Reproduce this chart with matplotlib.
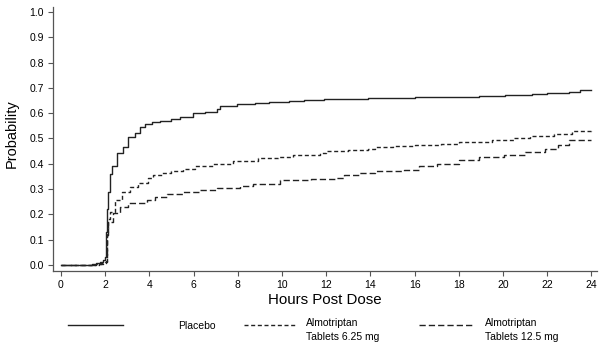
import matplotlib.pyplot as plt
from matplotlib.lines import Line2D

plt.rcParams['font.family'] = ['Liberation Sans', 'DejaVu Sans']

# time (hours) and probability
placebo_t = [0, 1.4, 1.6, 1.75, 1.9, 2.0, 2.05, 2.08, 2.15, 2.22, 2.32, 2.52, 2.82, 3.05,
             3.35, 3.57, 3.8, 4.1, 4.5, 5.0, 5.38, 5.99, 6.52, 7.05, 7.2, 7.95, 8.8,
             9.4, 10.3, 11.0, 11.9, 13.0, 13.9, 15.0, 16.0, 18.0, 18.9, 20.1, 21.3, 22.0,
             23.0, 23.5, 24]
placebo_p = [0, 0.004, 0.008, 0.012, 0.02, 0.03, 0.13, 0.22, 0.29, 0.36, 0.39, 0.444,
             0.468, 0.505, 0.52, 0.547, 0.557, 0.566, 0.571, 0.576, 0.586, 0.6, 0.606,
             0.615, 0.628, 0.635, 0.641, 0.646, 0.649, 0.652, 0.655, 0.657, 0.66, 0.662,
             0.664, 0.666, 0.669, 0.673, 0.676, 0.68, 0.684, 0.69, 0.69]

low_t = [0, 1.6, 1.8, 1.95, 2.05, 2.1, 2.15, 2.22, 2.44, 2.75, 3.12, 3.5, 3.95, 4.18,
         4.56, 5.0, 5.53, 6.06, 6.9, 7.8, 8.9, 9.8, 10.5, 11.7, 12.0, 13.0, 13.9, 14.2,
         15.0, 16.0, 17.2, 18.0, 19.5, 20.5, 21.2, 22.3, 23.1, 24]
low_p = [0, 0.003, 0.006, 0.01, 0.015, 0.13, 0.18, 0.21, 0.257, 0.29, 0.307, 0.323,
         0.343, 0.356, 0.365, 0.373, 0.378, 0.391, 0.398, 0.411, 0.421, 0.428, 0.434,
         0.442, 0.45, 0.455, 0.46, 0.468, 0.472, 0.476, 0.48, 0.488, 0.493, 0.5, 0.51,
         0.516, 0.53, 0.534]

high_t = [0, 1.7, 1.9, 2.05, 2.1, 2.14, 2.37, 2.67, 3.05, 3.42, 3.88, 4.25, 4.78, 5.53,
          6.29, 7.05, 8.1, 8.7, 9.9, 11.3, 12.4, 12.8, 13.5, 14.2, 15.5, 16.2, 17.0,
          18.0, 18.9, 20.06, 21.0, 21.9, 22.5, 23.0, 24]
high_p = [0, 0.003, 0.006, 0.01, 0.12, 0.171, 0.207, 0.23, 0.244, 0.246, 0.257, 0.27,
          0.279, 0.29, 0.296, 0.303, 0.312, 0.319, 0.336, 0.34, 0.345, 0.354, 0.365,
          0.37, 0.374, 0.39, 0.4, 0.413, 0.426, 0.433, 0.445, 0.46, 0.475, 0.493, 0.493]

xticks = list(range(0, 25, 2))
yticks = [i / 10 for i in range(11)]
labels = ['Placebo', 'Almotriptan\nTablets 6.25 mg', 'Almotriptan\nTablets 12.5 mg']
styles = ['-', (0, (2.9, 1.9)), (0, (4.5, 2.2))]
col = '#222222'

fig = plt.figure(figsize=(6.05, 3.51), dpi=100)
ax = fig.add_axes([53 / 605, 80 / 351, 544 / 605, 264 / 351])

for t, p, ls in zip([placebo_t, low_t, high_t], [placebo_p, low_p, high_p], styles):
    ax.step(t, p, where='post', color=col, lw=1.0, linestyle=ls)

ax.set_xlim(-0.36, 24.25)
ax.set_ylim(-0.024, 1.02)
ax.set_xticks(xticks)
ax.set_yticks(yticks)
ax.set_yticklabels([f'{v:.1f}' for v in yticks])
for s in ['top', 'right']:
    ax.spines[s].set_visible(False)
for s in ['left', 'bottom']:
    ax.spines[s].set_color('#555555')
    ax.spines[s].set_linewidth(0.9)
ax.tick_params(labelsize=7.5, length=3.5, width=0.8, color='#555555', pad=3)
ax.set_xlabel('Hours Post Dose', fontsize=10.8, labelpad=2)
fig.text(12 / 605, 1 - 134 / 351, 'Probability', rotation=90, fontsize=10.5,
         ha='center', va='center')

# legend drawn by hand below the axis
leg_line_x = [(68, 123), (244, 297), (419, 473)]
leg_text_x = [178, 306, 485]
for (x0, x1), tx, ls, lab in zip(leg_line_x, leg_text_x, styles, labels):
    y = 1 - 324.5 / 351
    fig.add_artist(Line2D([x0 / 605, x1 / 605], [y, y], transform=fig.transFigure,
                          color=col, lw=1.0, linestyle=ls))
    fig.text(tx / 605, 1 - (326 if '\n' not in lab else 330) / 351, lab,
             fontsize=7.5, ha='left', va='center', linespacing=1.5)

fig.savefig('out.png', dpi=100)
